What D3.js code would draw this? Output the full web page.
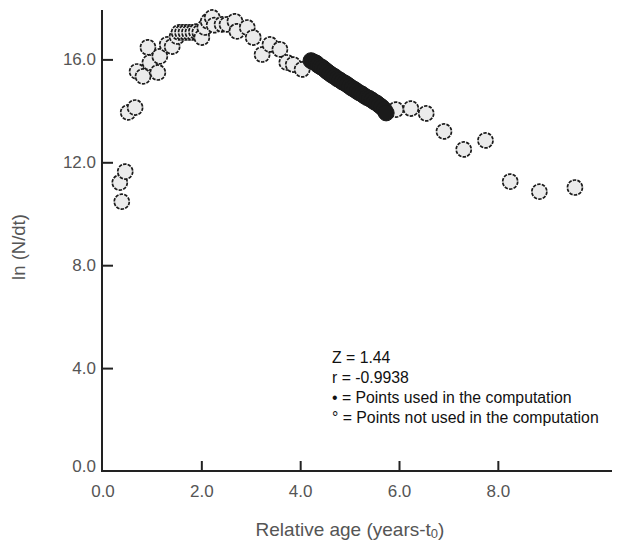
<!DOCTYPE html>
<html><head><meta charset="utf-8">
<script src="https://cdn.jsdelivr.net/npm/d3@7"></script>
<style>body{margin:0;background:#fff;} svg{display:block;}</style>
</head><body>
<script>
// Points not used in the computation (open markers)
const openX = [0.35,0.39,0.46,0.52,0.66,0.70,0.82,0.92,0.96,1.12,1.16,1.31,1.41,1.51,1.55,1.62,1.69,1.76,1.83,1.90,1.97,2.01,2.07,2.14,2.22,2.26,2.42,2.52,2.68,2.72,2.93,3.05,3.23,3.39,3.59,3.73,3.86,4.04,
               5.94,6.24,6.55,6.91,7.31,7.75,8.25,8.84,9.56];
const openY = [11.21,10.47,11.64,13.94,14.13,15.53,15.34,16.47,15.88,15.49,16.12,16.58,16.50,16.89,17.05,17.05,17.05,17.05,17.05,17.08,17.05,16.85,17.24,17.48,17.63,17.33,17.36,17.36,17.48,17.09,17.24,16.85,16.19,16.58,16.39,15.88,15.80,15.61,
               14.05,14.09,13.90,13.20,12.50,12.85,11.25,10.86,11.02];
// Points used in the computation (filled markers)
const usedX = [4.22,4.27,4.32,4.36,4.41,4.45,4.50,4.55,4.60,4.65,4.70,4.75,4.80,4.85,4.90,4.95,5.00,5.05,5.10,5.15,5.20,5.25,5.30,5.35,5.40,5.45,5.50,5.55,5.60,5.65,5.70,5.74];
const usedY = [15.95,15.90,15.86,15.78,15.72,15.68,15.60,15.52,15.45,15.38,15.33,15.25,15.20,15.13,15.08,15.02,14.95,14.88,14.83,14.76,14.70,14.65,14.58,14.52,14.48,14.42,14.35,14.30,14.22,14.15,14.05,13.92];
const xTicks = [0,2,4,6,8];
const yTicks = [0,4,8,12,16];
const legendLines = ["Z = 1.44","r = -0.9938","\u2022 = Points used in the computation","\u00B0 = Points not used in the computation"];

const W = 631, H = 544;
const svg = d3.select("body").append("svg").attr("width",W).attr("height",H);
const x = d3.scaleLinear().domain([0,10.31]).range([102.5,612]);
const y = d3.scaleLinear().domain([0,17.92]).range([471,10]);
const font = "'Liberation Sans', Arial, Helvetica, sans-serif";
const gray = "#555";

// X axis
const gx = svg.append("g").attr("transform","translate(0,471)")
  .call(d3.axisBottom(x).tickValues(xTicks).tickFormat(d3.format(".1f")).tickSize(-10).tickSizeOuter(0).tickPadding(14));
gx.select(".domain").attr("stroke","#222").attr("stroke-width",2).attr("d","M101,0H612");
gx.selectAll(".tick line").attr("stroke","#222").attr("stroke-width",2);
gx.selectAll(".tick").filter(d=>d===0).select("line").remove();
gx.selectAll("text").attr("font-family",font).attr("font-size",17).attr("fill",gray);

// Y axis
const gy = svg.append("g").attr("transform","translate(102,0)")
  .call(d3.axisLeft(y).tickValues(yTicks).tickFormat(d3.format(".1f")).tickSize(-11).tickSizeOuter(0).tickPadding(6));
gy.select(".domain").attr("stroke","#222").attr("stroke-width",2).attr("d","M0,10V472");
gy.selectAll(".tick line").attr("stroke","#222").attr("stroke-width",2);
gy.selectAll(".tick").filter(d=>d===0).select("line").remove();
gy.selectAll("text").attr("font-family",font).attr("font-size",17).attr("fill",gray);
gy.selectAll(".tick").filter(d=>d===0).select("text").attr("dy","0.05em");

// Open points
const openData = openX.map((v,i)=>({x:v,y:openY[i]}));
svg.append("g").selectAll("circle").data(openData).join("circle")
  .attr("cx",d=>x(d.x)).attr("cy",d=>y(d.y)).attr("r",7.5)
  .attr("fill","#ebebeb").attr("stroke","#1a1a1a").attr("stroke-width",1.7)
  .attr("stroke-dasharray","3.5 1.2");

// Used points
const usedData = usedX.map((v,i)=>({x:v,y:usedY[i]}));
svg.append("g").selectAll("circle").data(usedData).join("circle")
  .attr("cx",d=>x(d.x)).attr("cy",d=>y(d.y)).attr("r",8)
  .attr("fill","#1a1a1a").attr("stroke","#1a1a1a").attr("stroke-width",1);

// Axis titles
const xt = svg.append("text").attr("x",350).attr("y",536).attr("text-anchor","middle")
  .attr("font-family",font).attr("font-size",19).attr("fill",gray);
xt.append("tspan").text("Relative age (years-t");
xt.append("tspan").text("0").attr("font-size",13).attr("dy",2);
xt.append("tspan").text(")").attr("dy",-2);

svg.append("text").attr("transform","translate(25,247) rotate(-90)").attr("text-anchor","middle")
  .attr("font-family",font).attr("font-size",18.5).attr("fill",gray).text("ln (N/dt)");

// Legend / annotation
svg.append("g").selectAll("text").data(legendLines).join("text")
  .attr("x",332).attr("y",(d,i)=>362.5+i*20.3)
  .attr("font-family",font).attr("font-size",15.8).attr("fill","#111").text(d=>d);
</script>
</body></html>
